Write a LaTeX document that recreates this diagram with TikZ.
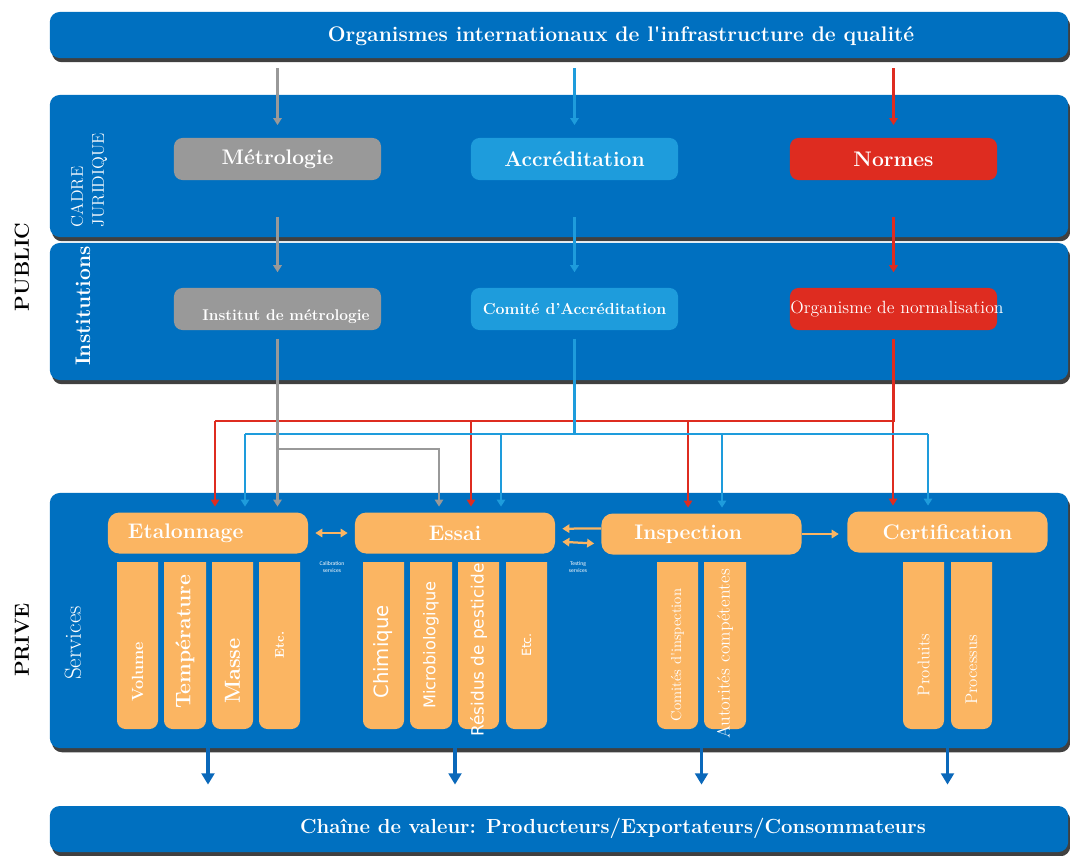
\documentclass[tikz,border=0pt]{standalone}
\usepackage{fontspec}
\newfontfamily\calfont{Carlito}
\newfontfamily\dvfont{DejaVu Sans}
\usepackage{tikz}
\usetikzlibrary{arrows.meta, positioning, shadows}

\definecolor{panelblue}{RGB}{0,112,192}
\definecolor{arrowblue}{RGB}{10,104,186}
\definecolor{accblue}{RGB}{30,156,220}
\definecolor{normred}{RGB}{222,44,32}
\definecolor{metgrey}{RGB}{153,153,153}
\definecolor{hdrorange}{RGB}{251,181,98}

\tikzset{
  panel/.style={fill=panelblue, rounded corners=7pt, inner sep=0pt, minimum width=25.45cm,
    drop shadow={shadow xshift=1.5pt, shadow yshift=-3pt, opacity=.75, fill=black}},
  topbox/.style={rounded corners=6pt, inner sep=0pt, minimum width=5.175cm, minimum height=1.05cm,
    text=white, font=\bfseries\fontsize{15}{17}\selectfont},
  instbox/.style={topbox, font=\bfseries\fontsize{11.3}{13}\selectfont},
  hdr/.style={fill=hdrorange, rounded corners=8pt, inner sep=0pt, minimum width=5cm,
    minimum height=1.025cm, text=white, font=\bfseries\fontsize{15}{17}\selectfont},
  bar/.style={fill=hdrorange},
  barlbl/.style={rotate=90, text=white, inner sep=0pt},
  sidelbl/.style={rotate=90, inner sep=0pt, font=\bfseries\fontsize{14.5}{16}\selectfont},
  tip/.style={-{Triangle[width=6pt,length=5pt]}},
  gline/.style={draw=metgrey, line width=1.6pt},
  rline/.style={draw=normred, line width=1.6pt},
  bline/.style={draw=accblue, line width=1.6pt},
  garrow/.style={gline, tip, shorten >=4pt},
  rarrow/.style={rline, tip, shorten >=4pt},
  barrow/.style={bline, tip, shorten >=4pt},
  oarrow/.style={draw=hdrorange, line width=1.6pt, -{Triangle[width=6pt,length=5pt]}},
  obi/.style={oarrow, {Triangle[width=6pt,length=5pt]}-{Triangle[width=6pt,length=5pt]}},
  outarrow/.style={draw=arrowblue, line width=2.6pt, -{Triangle[width=9pt,length=8pt]}}
}

\begin{document}
\begin{tikzpicture}[x=0.025cm, y=-0.025cm]
\useasboundingbox (0,0) rectangle (1070,855);

% bands and panels
\node[panel, minimum height=1.15cm] (intl) at (559,35) {};
\node[text=white, font=\bfseries\fontsize{15}{17}\selectfont] (intltxt) at (621,36)
  {Organismes internationaux de l\textquotesingle infrastructure de qualité};
\node[panel, minimum height=3.55cm] (cadre) at (559,166) {};
\node[panel, minimum height=3.425cm] (inst) at (559,311.5) {};
\node[panel, minimum height=6.375cm] (serv) at (559,620.5) {};
\node[panel, minimum height=1.15cm] (chain) at (559,829) {};
\node[text=white, font=\bfseries\fontsize{14.5}{16}\selectfont] (chaintxt) at (613,828)
  {Chaîne de valeur: Producteurs/Exportateurs/Consommateurs};

% side labels
\node[sidelbl] (public) at (22,267) {PUBLIC};
\node[sidelbl] (prive) at (22,640) {PRIVE};
\node[rotate=90, text=white, align=left, inner sep=0pt, font=\fontsize{12}{15}\selectfont] (cadrelbl) at (89,180) {CADRE\\JURIDIQUE};
\node[rotate=90, text=white, inner sep=0pt, font=\bfseries\fontsize{15}{17}\selectfont] (instlbl) at (83,306) {Institutions};
\node[rotate=90, text=white, inner sep=0pt, font=\fontsize{16.5}{18}\selectfont] (servlbl) at (73,643) {Services};

% legal frame and institutions
\node[topbox, fill=metgrey] (metro) at (277.5,159) {Métrologie};
\node[topbox, fill=accblue] (accred) at (574.5,159) {Accréditation};
\node[topbox, fill=normred] (normes) at (893.5,159) {Normes};
\node[instbox, fill=metgrey] (imetro) at (277.5,309) {};
\node[text=white, font=\bfseries\fontsize{11}{13}\selectfont] (imetrotxt) at (286,317) {Institut de métrologie};
\node[instbox, fill=accblue] (comite) at (574.5,309) {Comité d’Accréditation};
\node[instbox, fill=normred] (onorm) at (893.5,309) {};
\node[text=white, inner sep=0pt, font=\fontsize{12.6}{14}\selectfont] (onormtxt) at (897,309) {Organisme de normalisation};

% from international bodies
\draw[garrow, shorten <=7pt, shorten >=9pt] (intl.south -| metro) -- (metro.north);
\draw[barrow, shorten <=7pt, shorten >=9pt] (intl.south -| accred) -- (accred.north);
\draw[rarrow, shorten <=7pt, shorten >=9pt] (intl.south -| normes) -- (normes.north);
\draw[garrow, shorten <=26pt, shorten >=11pt] (metro.south) -- (imetro.north);
\draw[barrow, shorten <=26pt, shorten >=11pt] (accred.south) -- (comite.north);
\draw[rarrow, shorten <=26pt, shorten >=11pt] (normes.south) -- (onorm.north);

% service headers
\node[hdr, text width=4cm, align=left, inner xsep=0.5cm] (etal) at (208,533) {Etalonnage};
\node[hdr] (essai) at (455,533) {Essai};
\node[hdr, text width=3.35cm, align=left, inner xsep=0.825cm] (insp) at (701.5,534) {Inspection};
\node[hdr] (cert) at (947.5,532) {Certification};

% distribution lines
\coordinate (r1) at (215,421);
\coordinate (r2) at (471,421);
\coordinate (r3) at (688,421);
\coordinate (r4) at (893,421);
\coordinate (b1) at (245,434);
\coordinate (b2) at (501,434);
\coordinate (b3) at (722,434);
\coordinate (b4) at (928,434);
\coordinate (g1) at (277,449);
\coordinate (g2) at (439,449);

\draw[rline, shorten <=6pt] (onorm.south) |- (r1);
\draw[rarrow] (r1) -- (r1 |- etal.north);
\draw[rarrow] (r2) -- (r2 |- essai.north);
\draw[rarrow] (r3) -- (r3 |- insp.north);
\draw[rarrow] (r4) -- (r4 |- cert.north);

\draw[bline, shorten <=6pt] (comite.south) -- (comite.south |- b1);
\draw[bline] (b1) -- (b4);
\draw[barrow] (b1) -- (b1 |- etal.north);
\draw[barrow] (b2) -- (b2 |- essai.north);
\draw[barrow] (b3) -- (b3 |- insp.north);
\draw[barrow] (b4) -- (b4 |- cert.north);

\draw[garrow, shorten <=6pt] (imetro.south) -- (imetro.south |- etal.north);
\draw[garrow] (g1) -- (g2) -- (g2 |- essai.north);

% links between services
\draw[obi, shorten <=5pt, shorten >=5pt] (etal.east) -- (essai.west);
\draw[oarrow, shorten >=5pt] ([yshift=4pt]insp.west) -- ([yshift=3pt]essai.east);
\draw[obi, shorten <=5pt, shorten >=5pt] ([yshift=-6pt]essai.east) -- ([yshift=-7pt]insp.west);
\draw[oarrow, shorten >=6pt] (insp.east) -- (cert.west |- insp.east);
\node[text=white, align=center, inner sep=0pt, font=\calfont\fontsize{4}{4.5}\selectfont] (calsrv) at (332,567) {Calibration\\services};
\node[text=white, align=center, inner sep=0pt, font=\calfont\fontsize{4}{4.5}\selectfont] (testsrv) at (578,567) {Testing\\services};

% columns under the headers
\fill[bar] [rounded corners=6pt] (117,562) rectangle (158,729) [sharp corners] (117,562) rectangle (158,650);
\fill[bar] [rounded corners=6pt] (164,562) rectangle (206,729) [sharp corners] (164,562) rectangle (206,650);
\fill[bar] [rounded corners=6pt] (212,562) rectangle (253,729) [sharp corners] (212,562) rectangle (253,650);
\fill[bar] [rounded corners=6pt] (259,562) rectangle (300,729) [sharp corners] (259,562) rectangle (300,650);
\fill[bar] [rounded corners=6pt] (363,562) rectangle (404,729) [sharp corners] (363,562) rectangle (404,650);
\fill[bar] [rounded corners=6pt] (410,562) rectangle (452,729) [sharp corners] (410,562) rectangle (452,650);
\fill[bar] [rounded corners=6pt] (458,562) rectangle (499,729) [sharp corners] (458,562) rectangle (499,650);
\fill[bar] [rounded corners=6pt] (506,562) rectangle (547,729) [sharp corners] (506,562) rectangle (547,650);
\fill[bar] [rounded corners=6pt] (657,562) rectangle (698,729) [sharp corners] (657,562) rectangle (698,650);
\fill[bar] [rounded corners=6pt] (704,562) rectangle (746,729) [sharp corners] (704,562) rectangle (746,650);
\fill[bar] [rounded corners=6pt] (903,562) rectangle (944,729) [sharp corners] (903,562) rectangle (944,650);
\fill[bar] [rounded corners=6pt] (951,562) rectangle (992,729) [sharp corners] (951,562) rectangle (992,650);

\node[barlbl, font=\bfseries\fontsize{11.5}{13}\selectfont] (volume) at (137.5,672) {Volume};
\node[barlbl, font=\bfseries\fontsize{15}{17}\selectfont] (temp) at (185,642) {Température};
\node[barlbl, font=\bfseries\fontsize{15.5}{17}\selectfont] (masse) at (232.5,671) {Masse};
\node[barlbl, font=\bfseries\fontsize{9}{10}\selectfont] (etc1) at (279.5,645) {Etc.};
\node[barlbl, font=\dvfont\fontsize{14}{16}\selectfont] (chim) at (383.5,652) {Chimique};
\node[barlbl, font=\dvfont\fontsize{11.5}{13}\selectfont] (micro) at (431,645) {Microbiologique};
\node[barlbl, font=\dvfont\fontsize{12}{14}\selectfont] (resid) at (478.5,650) {Résidus de pesticide};
\node[barlbl, font=\dvfont\fontsize{9}{10}\selectfont] (etc2) at (526.5,645) {Etc.};
\node[barlbl, font=\fontsize{10.3}{12}\selectfont] (comins) at (677.5,655) {Comités d\textquotesingle inspection};
\node[barlbl, font=\fontsize{12.6}{14}\selectfont] (autor) at (725,654) {Autorités compétentes};
\node[barlbl, font=\fontsize{12}{14}\selectfont] (prod) at (923.5,665) {Produits};
\node[barlbl, font=\fontsize{12}{14}\selectfont] (proc) at (971.5,670) {Processus};

% into the value chain
\draw[outarrow, shorten >=15pt] (etal |- serv.south) -- (etal |- chain.north);
\draw[outarrow, shorten >=15pt] (essai |- serv.south) -- (essai |- chain.north);
\draw[outarrow, shorten >=15pt] (insp |- serv.south) -- (insp |- chain.north);
\draw[outarrow, shorten >=15pt] (cert |- serv.south) -- (cert |- chain.north);
\end{tikzpicture}
\end{document}
